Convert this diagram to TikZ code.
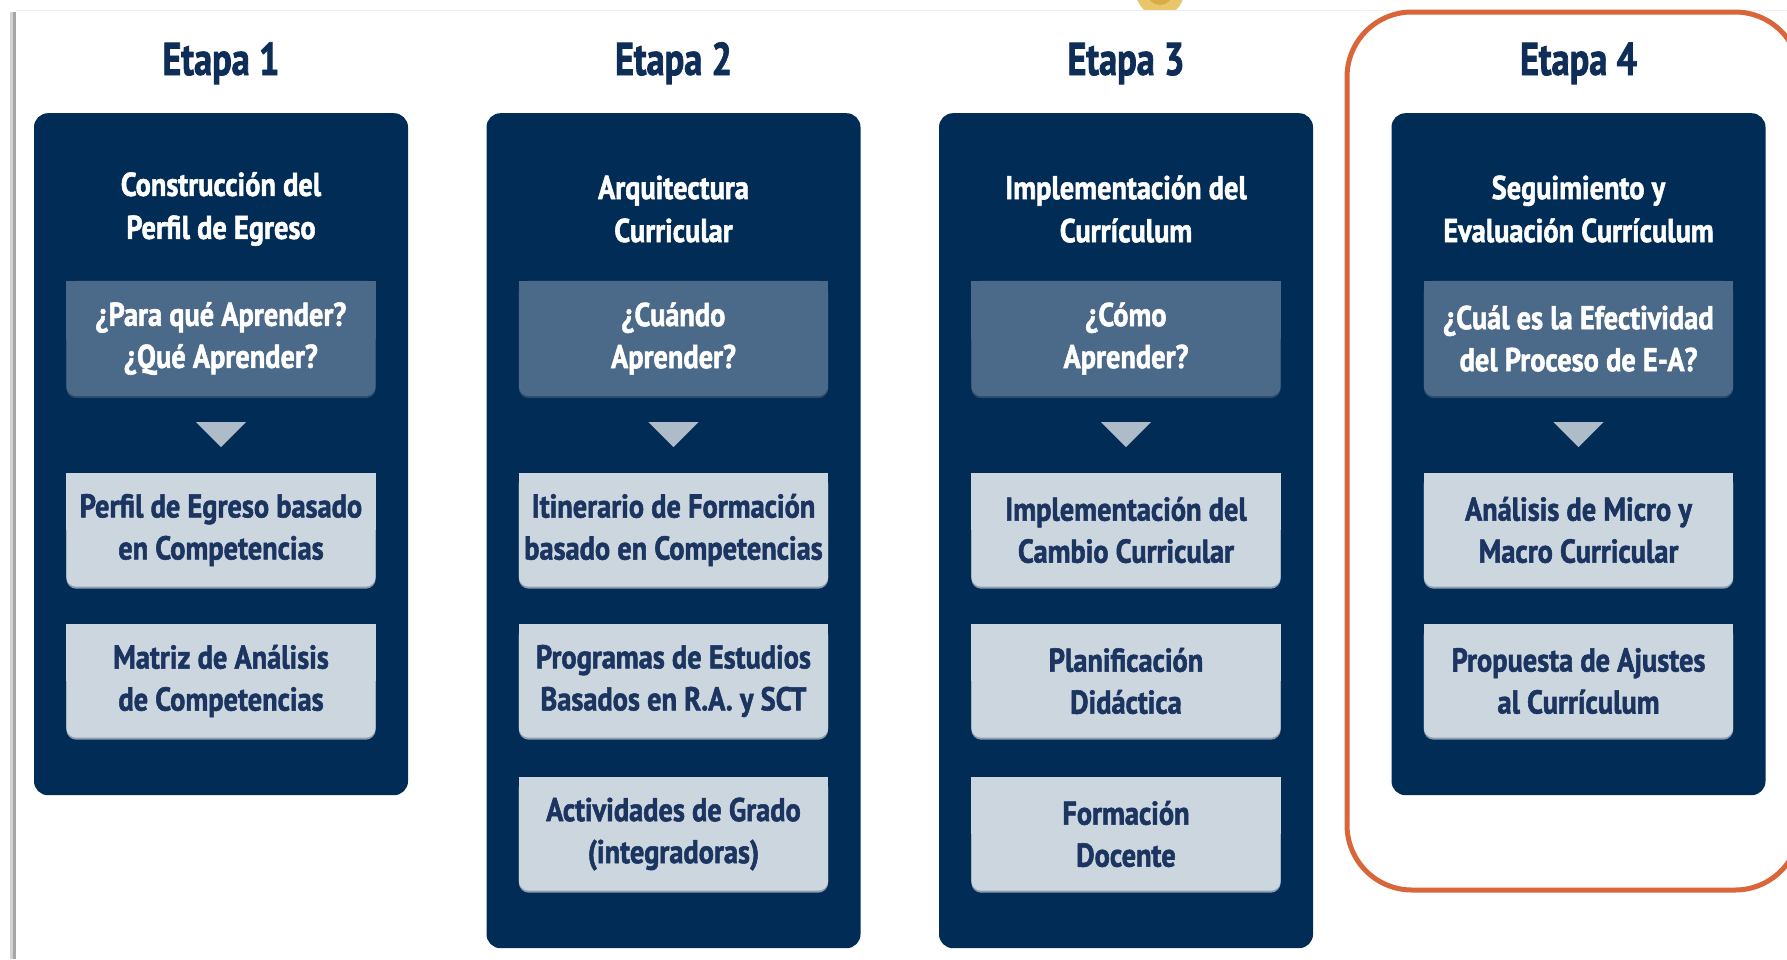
\documentclass[tikz,border=0pt]{standalone}
\usepackage{fontspec}
\newfontfamily\cfont{PT Sans}[FakeStretch=0.86, FakeBold=1.6]
\newfontfamily\tfont{PT Sans}[FakeStretch=0.79, FakeBold=1.6]
\usetikzlibrary{backgrounds,calc}
\pgfdeclarelayer{boxbg}
\pgfsetlayers{background,boxbg,main}
\definecolor{navy}{HTML}{012C55}
\definecolor{qbox}{HTML}{4B6988}
\definecolor{lbox}{HTML}{CCD6DF}
\definecolor{lboxsh}{HTML}{8E9DB0}
\definecolor{qboxsh}{HTML}{2E4A6A}
\definecolor{tri}{HTML}{AEBBC8}
\definecolor{txtnavy}{HTML}{1B3460}
\definecolor{ttl}{HTML}{0E2E58}
\definecolor{orng}{HTML}{D9653B}
\definecolor{gold}{HTML}{E8C66C}
\definecolor{goldin}{HTML}{D8AE42}
\tikzset{
  colbox/.style={fill=navy, rounded corners=14pt, minimum width=374pt, inner sep=0pt, anchor=north},
  etitle/.style={font=\tfont\bfseries\fontsize{46}{50}\selectfont, text=ttl, inner sep=0pt, anchor=base},
  subt/.style={font=\cfont\bfseries\fontsize{33}{43}\selectfont, text=white, align=center, inner sep=0pt},
  inbox/.style={minimum width=309pt, minimum height=113pt, inner sep=0pt, align=center, font=\cfont\bfseries\fontsize{33}{42}\selectfont},
  qst/.style={inbox, text=white, minimum height=115pt},
  lit/.style={inbox, text=txtnavy},
  tribox/.style={fill=tri},
  orangeframe/.style={draw=orng, line width=5pt, rounded corners=65pt},
}
\newcommand\ibg[3]{%
  \begin{pgfonlayer}{boxbg}
    \fill[#3, rounded corners=10pt] ([yshift=-2pt]#1.north west) rectangle ([yshift=-2pt]#1.south east);
    \fill[#2, rounded corners=10pt] (#1.north west) rectangle (#1.south east);
    \fill[#2] (#1.north west) rectangle (#1.east);
  \end{pgfonlayer}}
\newcommand\downtri[1]{%
  \fill[tribox] ($(#1.south)+(-25,26)$) -- ($(#1.south)+(25,26)$) -- ($(#1.south)+(0,51)$) -- cycle;}
\begin{document}
\begin{tikzpicture}[x=1pt,y=-1pt]
\useasboundingbox (0,0) rectangle (1787,959);
\begin{pgfonlayer}{background}
  \fill[gold] (1160,-8) circle (24);
  \fill[goldin] (1160,-8) circle (13);
  \fill[white] (16,10) rectangle (1787,959);
  \draw[gray!12, line width=1pt] (16,10) -- (1787,10);
  \fill[gray!35] (10,12) rectangle (13,959);
  \fill[gray!70] (13,12) rectangle (16,959);
  \node[colbox, minimum height=682pt] (c1) at (221,113) {};
  \node[colbox, minimum height=835pt] (c2) at (673.5,113) {};
  \node[colbox, minimum height=835pt] (c3) at (1126,113) {};
  \node[colbox, minimum height=682pt] (c4) at (1578.5,113) {};
\end{pgfonlayer}

\draw[orangeframe] (1347,12) rectangle (1800,890);

% titles
\node[etitle] (t1) at (221,75) {Etapa 1};
\node[etitle] (t2) at (673.5,75) {Etapa 2};
\node[etitle] (t3) at (1126,75) {Etapa 3};
\node[etitle] (t4) at (1578.5,75) {Etapa 4};

% subtitles
\node[subt] (s1) at (221,209) {Construcción del\\Perfil de Egreso};
\node[subt] (s2) at (673.5,209) {Arquitectura\\Curricular};
\node[subt] (s3) at (1126,209) {Implementación del\\Currículum};
\node[subt] (s4) at (1578.5,209) {Seguimiento y\\Evaluación Currículum};

% questions
\node[qst] (q1) at (221,338.5) {¿Para qué Aprender?\\¿Qué Aprender?};
\node[qst] (q2) at (673.5,338.5) {¿Cuándo\\Aprender?};
\node[qst] (q3) at (1126,338.5) {¿Cómo\\Aprender?};
\node[qst] (q4) at (1578.5,338.5) {¿Cuál es la Efectividad\\del Proceso de E-A?};
\ibg{q1}{qbox}{qboxsh}\ibg{q2}{qbox}{qboxsh}\ibg{q3}{qbox}{qboxsh}\ibg{q4}{qbox}{qboxsh}
\downtri{q1}\downtri{q2}\downtri{q3}\downtri{q4}

% column 1
\node[lit] (a1) at (221,530) {Perfil de Egreso basado\\en Competencias};
\node[lit] (a2) at (221,681) {Matriz de Análisis\\de Competencias};
% column 2
\node[lit] (b1) at (673.5,530) {Itinerario de Formación\\basado en Competencias};
\node[lit] (b2) at (673.5,681) {Programas de Estudios\\Basados en R.A. y SCT};
\node[lit] (b3) at (673.5,834) {Actividades de Grado\\(integradoras)};
% column 3
\node[lit] (d1) at (1126,530) {Implementación del\\Cambio Curricular};
\node[lit] (d2) at (1126,681) {Planificación\\Didáctica};
\node[lit] (d3) at (1126,834) {Formación\\Docente};
% column 4
\node[lit] (e1) at (1578.5,530) {Análisis de Micro y\\Macro Curricular};
\node[lit] (e2) at (1578.5,681) {Propuesta de Ajustes\\al Currículum};
\ibg{a1}{lbox}{lboxsh}\ibg{a2}{lbox}{lboxsh}
\ibg{b1}{lbox}{lboxsh}\ibg{b2}{lbox}{lboxsh}\ibg{b3}{lbox}{lboxsh}
\ibg{d1}{lbox}{lboxsh}\ibg{d2}{lbox}{lboxsh}\ibg{d3}{lbox}{lboxsh}
\ibg{e1}{lbox}{lboxsh}\ibg{e2}{lbox}{lboxsh}
\end{tikzpicture}
\end{document}
